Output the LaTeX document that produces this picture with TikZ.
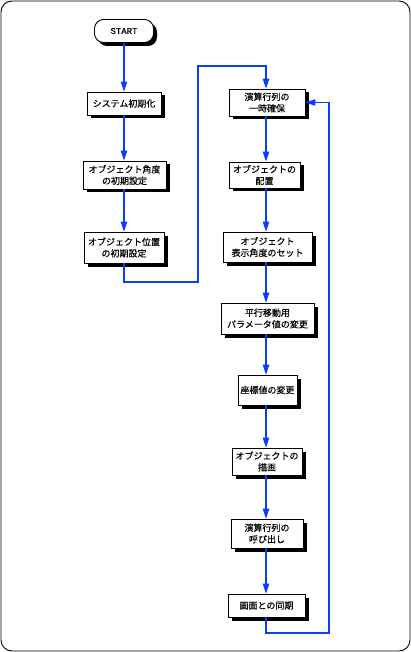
\documentclass[tikz,border=0pt]{standalone}
\usepackage{fontspec}
\newfontfamily\jp[FakeBold=0.4]{Noto Sans CJK JP}
\newfontfamily\mono[FakeBold=0.3]{Liberation Mono}
\usetikzlibrary{arrows.meta,shadows}
\definecolor{flowblue}{RGB}{10,60,255}
\tikzset{
  box/.style={draw=black, line width=0.9pt, fill=white, inner sep=0pt, align=center,
    font=\jp\fontsize{9}{11.5}\selectfont,
    drop shadow={shadow xshift=3.5pt, shadow yshift=-3.5pt, fill=black, opacity=1}},
  startbox/.style={box, rounded corners=9pt, font=\mono\fontsize{9}{10}\selectfont},
  flow/.style={draw=flowblue, line width=1.1pt, -{Triangle[length=10pt,width=6.5pt]}},
  flowline/.style={draw=flowblue, line width=1.1pt}
}
\begin{document}
\begin{tikzpicture}[x=1pt,y=-1pt]
\useasboundingbox (0,0) rectangle (411,652);
\draw[line width=0.9pt, rounded corners=11pt] (1,1) rectangle (410,651);

\node[startbox, minimum width=59pt, minimum height=23pt] (st) at (124,31) {START};
\node[box, minimum width=74pt, minimum height=23pt] (b1) at (124,103.5) {システム初期化};
\node[box, minimum width=83pt, minimum height=28pt] (b2) at (124.5,175) {オブジェクト角度\\の初期設定};
\node[box, minimum width=80pt, minimum height=31pt] (b3) at (124,247.5) {オブジェクト位置\\の初期設定};

\node[box, minimum width=76pt, minimum height=27pt] (b4) at (267,102.5) {演算行列の\\一時確保};
\node[box, minimum width=71pt, minimum height=26pt] (b5) at (264.5,175) {オブジェクトの\\配置};
\node[box, minimum width=89pt, minimum height=30pt] (b6) at (267.5,247) {オブジェクト\\表示角度のセット};
\node[box, minimum width=93pt, minimum height=31pt] (b7) at (267.5,318.5) {平行移動用\\パラメータ値の変更};
\node[box, minimum width=59pt, minimum height=30pt] (b8) at (267.5,390) {座標値の変更};
\node[box, minimum width=70pt, minimum height=27pt] (b9) at (267,461.5) {オブジェクトの\\描画};
\node[box, minimum width=72pt, minimum height=29pt] (b10) at (267,533.5) {演算行列の\\呼び出し};
\node[box, minimum width=77pt, minimum height=23pt] (b11) at (266.5,605.5) {画面との同期};

\coordinate (c1) at (198,282);
\coordinate (c2) at (198,66);
\coordinate (c4) at (329,633);

\draw[flow] (st.south -| 124,0) -- (b1.north -| 124,0);
\draw[flow] (b1.south -| 124,0) -- (b2.north -| 124,0);
\draw[flow] (b2.south -| 124,0) -- (b3.north -| 124,0);
\draw[flow] (b3.south -| 124,0) |- (c1) -- (c2) -| (b4.north -| 266,0);
\draw[flow] (b4.south -| 266,0) -- (b5.north -| 266,0);
\draw[flow] (b5.south -| 266,0) -- (b6.north -| 266,0);
\draw[flow] (b6.south -| 266,0) -- (b7.north -| 266,0);
\draw[flow] (b7.south -| 266,0) -- (b8.north -| 266,0);
\draw[flow] (b8.south -| 266,0) -- (b9.north -| 266,0);
\draw[flow] (b9.south -| 266,0) -- (b10.north -| 266,0);
\draw[flow] (b10.south -| 266,0) -- (b11.north -| 266,0);
\draw[flow] (b11.south -| 266,0) |- (c4) -- (c4 |- b4.east) -- (b4.east);
\end{tikzpicture}
\end{document}
